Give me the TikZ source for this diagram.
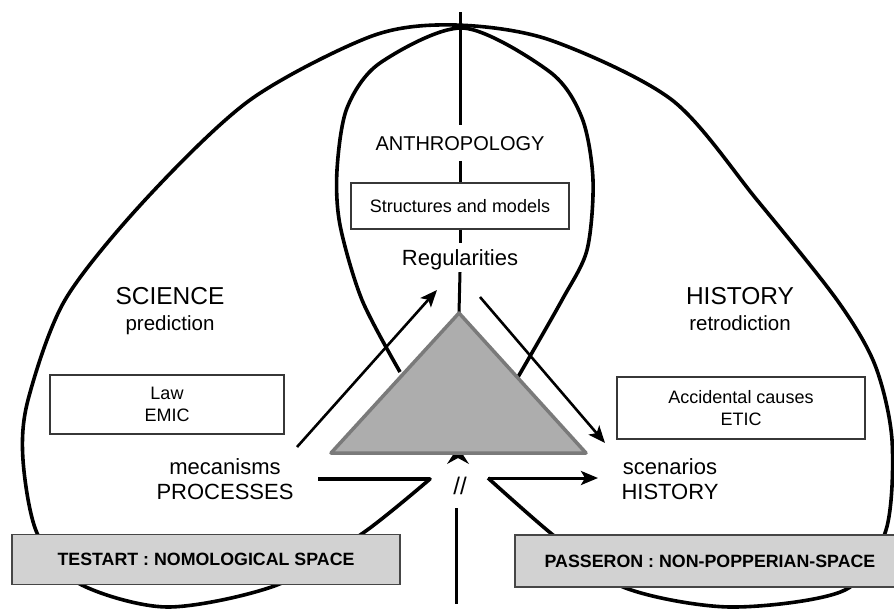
\documentclass[tikz,border=0pt]{standalone}
\usepackage{fontspec}
\setmainfont{Liberation Sans}
\usetikzlibrary{arrows.meta}
\definecolor{trifill}{RGB}{173,173,173}
\definecolor{triedge}{RGB}{122,122,122}
\definecolor{boxfill}{RGB}{210,210,210}
\definecolor{boxedge}{RGB}{70,70,70}
\definecolor{wedge}{RGB}{55,55,55}
\begin{document}
\begin{tikzpicture}[x=1pt,y=-1pt,
  loopline/.style={line width=3.6pt, line join=round},
  axisline/.style={line width=3pt},
  arr/.style={line width=2.6pt, -{Stealth[length=17pt,width=14pt,inset=4pt]}},
  wbox/.style={draw=wedge, line width=1.3pt, fill=white, align=center, inner sep=0pt,
    font=\fontsize{18}{22.3}\selectfont},
  gbox/.style={draw=boxedge, line width=1.5pt, fill=boxfill, inner sep=0pt,
    text height=12.7pt, text depth=0pt, font=\fontsize{17.8}{20}\selectfont\bfseries},
  bigtext/.style={anchor=base, font=\fontsize{24.5}{28}\selectfont},
  subtext/.style={anchor=base, font=\fontsize{20.5}{24}\selectfont},
  midtext/.style={anchor=base, font=\fontsize{22}{26}\selectfont},
]
\fill[white] (0,0) rectangle (894,608);
\useasboundingbox (0,0) rectangle (894,608);

% named points
\coordinate (pL) at (318,479);
\coordinate (oR) at (488,478);
\coordinate (scTip) at (598,478);
\coordinate (vTop) at (460,12);
\coordinate (tA) at (459,313);
\coordinate (tL) at (331,453);
\coordinate (tR) at (586,453);
\coordinate (upS) at (297,447);
\coordinate (upE) at (437,290);
\coordinate (dnS) at (480,297);
\coordinate (dnE) at (605,443);
\coordinate (vB1) at (456,508);
\coordinate (vB2) at (456,604);

% outer loop (science / history)
\draw[loopline] (pL) -- plot[smooth, tension=0.5] coordinates {
  (430,479) (363,533) (277,585) (167,607) (78,583) (37,533) (23,460) (28,400)
  (65,300) (145,200) (250,100) (372,36) (455,25) (550,40) (672,100) (757,200)
  (837,300) (875,365) (892,440) (886,530) (845,590) (730,607) (623,587)
  (553,535) (488,478)};
\draw[arr, line width=3pt] (oR) -- (scTip);

% inner loop (anthropology)
\draw[loopline] plot[smooth, tension=0.5] coordinates {
  (400,372) (362,300) (340,225) (337,170) (347,108) (380,63) (463,28)
  (550,72) (582,118) (593,180) (587,250) (562,300) (518,377)};

% central axis
\node[anchor=center, inner xsep=2pt, inner ysep=10.5pt, text height=14.3pt, text depth=0pt,
  font=\fontsize{20}{24}\selectfont] (anth) at (460,143) {ANTHROPOLOGY};
\node[wbox, minimum width=218pt, minimum height=46pt] (struct) at (460,206) {Structures and models};
\node[anchor=center, inner xsep=2pt, inner ysep=6.6pt, text height=15.8pt, text depth=0pt,
  font=\fontsize{22}{26}\selectfont] (reg) at (460,257.5) {Regularities};
\draw[axisline] (vTop) -- (anth.north);
\draw[axisline] (anth.south) -- (struct.north);
\draw[axisline] (struct.south) -- (reg.north);
\draw[axisline] (reg.south) -- (tA);

% small arrowhead under the triangle
\fill (458,447) -- (469,464) -- (458,458) -- (447,464) -- cycle;

% triangle
\draw[line width=3.5pt, draw=triedge, fill=trifill, line join=round] (tA) -- (tL) -- (tR) -- cycle;

% arrows
\draw[arr] (upS) -- (upE);
\draw[arr] (dnS) -- (dnE);

% bottom axis
\node[font=\fontsize{24}{28}\selectfont] (brk) at (460,486) {//};
\draw[axisline] (vB1) -- (vB2);

% labels
\node[bigtext] (sci) at (170,304) {SCIENCE};
\node[subtext] (pred) at (170,330) {prediction};
\node[bigtext] (hist) at (740,304) {HISTORY};
\node[subtext] (retro) at (740,330) {retrodiction};
\node[wbox, minimum width=234pt, minimum height=59pt] (law) at (167,404.5) {Law\\EMIC};
\node[wbox, minimum width=248pt, minimum height=62pt] (acc) at (741,408) {Accidental causes\\ETIC};
\node[midtext] (mec) at (225,474) {mecanisms};
\node[midtext] (proc) at (225,499) {PROCESSES};
\node[midtext] (scen) at (670,474) {scenarios};
\node[midtext] (hist2) at (670,499) {HISTORY};

% gray boxes
\node[gbox, minimum width=388pt, minimum height=50pt] (testart) at (206,559.5) {TESTART : NOMOLOGICAL SPACE};
\node[gbox, minimum width=390pt, minimum height=52pt] (passeron) at (710,561) {PASSERON : NON-POPPERIAN-SPACE};
\end{tikzpicture}
\end{document}
